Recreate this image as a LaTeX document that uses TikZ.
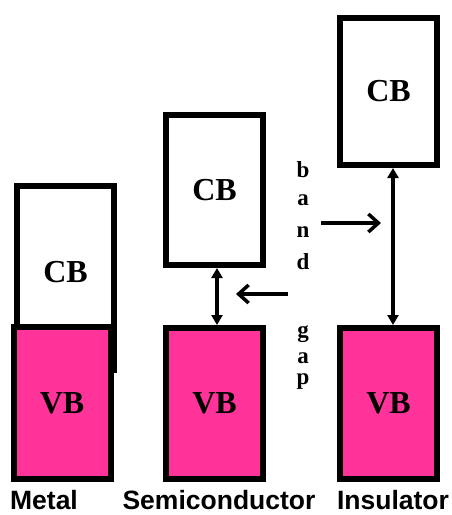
\documentclass[tikz,border=0pt]{standalone}
\usepackage{fontspec}
\setmainfont{Liberation Serif}
\newfontfamily\labelsans{Liberation Sans}
\usetikzlibrary{arrows.meta}
\definecolor{vbpink}{RGB}{255,51,153}
\tikzset{
  band/.style={draw=black, line width=6pt, rectangle, inner sep=0pt,
    minimum width=97pt, font=\fontsize{32}{32}\selectfont\bfseries},
  cbbox/.style={band, fill=white},
  vbbox/.style={band, fill=vbpink},
  gaparrow/.style={line width=3.5pt, {Triangle[length=10pt,width=11pt]}-{Triangle[length=10pt,width=11pt]}},
  pointer/.style={line width=3.5pt, -{Straight Barb[length=10pt,width=18pt,line width=3.5pt]}},
  letter/.style={font=\fontsize{23}{23}\selectfont\bfseries, inner sep=0pt},
  material/.style={font=\labelsans\fontsize{26.5}{26.5}\selectfont\bfseries, inner sep=0pt, anchor=base}
}
\begin{document}
\begin{tikzpicture}[x=1pt,y=-1pt]
\useasboundingbox (0,0) rectangle (451,515);

% Metal: conduction and valence bands overlap
\node[cbbox, minimum height=184pt] (mcb) at (65.5,278) {};
\node at (65.5,272) [font=\fontsize{32}{32}\selectfont\bfseries] (mcbt) {CB};
\node[vbbox, minimum height=152pt] (mvb) at (62,403) {VB};

% Semiconductor: small gap
\node[cbbox, minimum height=150pt] (scb) at (214.5,190) {CB};
\node[vbbox, minimum height=151pt] (svb) at (214.5,403.5) {VB};

% Insulator: large gap
\node[cbbox, minimum height=147pt] (icb) at (388.5,91.5) {CB};
\node[vbbox, minimum height=151pt] (ivb) at (388.5,403.5) {VB};

% gap arrows
\draw[gaparrow] ([xshift=2.5pt]scb.south) -- ([xshift=2.5pt]svb.north);
\draw[gaparrow] ([xshift=4.5pt]icb.south) -- ([xshift=4.5pt]ivb.north);

% vertical "band gap" caption
\node[letter] (l1) at (303,170) {b};
\node[letter] (l2) at (303,200) {a};
\node[letter] (l3) at (303,232) {n};
\node[letter] (l4) at (303,262) {d};
\node[letter] (l5) at (303,334) {g};
\node[letter] (l6) at (303,358) {a};
\node[letter] (l7) at (303,382) {p};

% pointers from the caption to the two gaps
\coordinate (pl) at (288,294);
\coordinate (plend) at (236,294);
\coordinate (pr) at (321,223);
\coordinate (prend) at (381,223);
\draw[pointer] (pl) -- (plend);
\draw[pointer] (pr) -- (prend);

% material names
\node[material] (nm) at (44,509) {Metal};
\node[material] (ns) at (219,509) {Semiconductor};
\node[material] (ni) at (393,509) {Insulator};
\end{tikzpicture}
\end{document}
